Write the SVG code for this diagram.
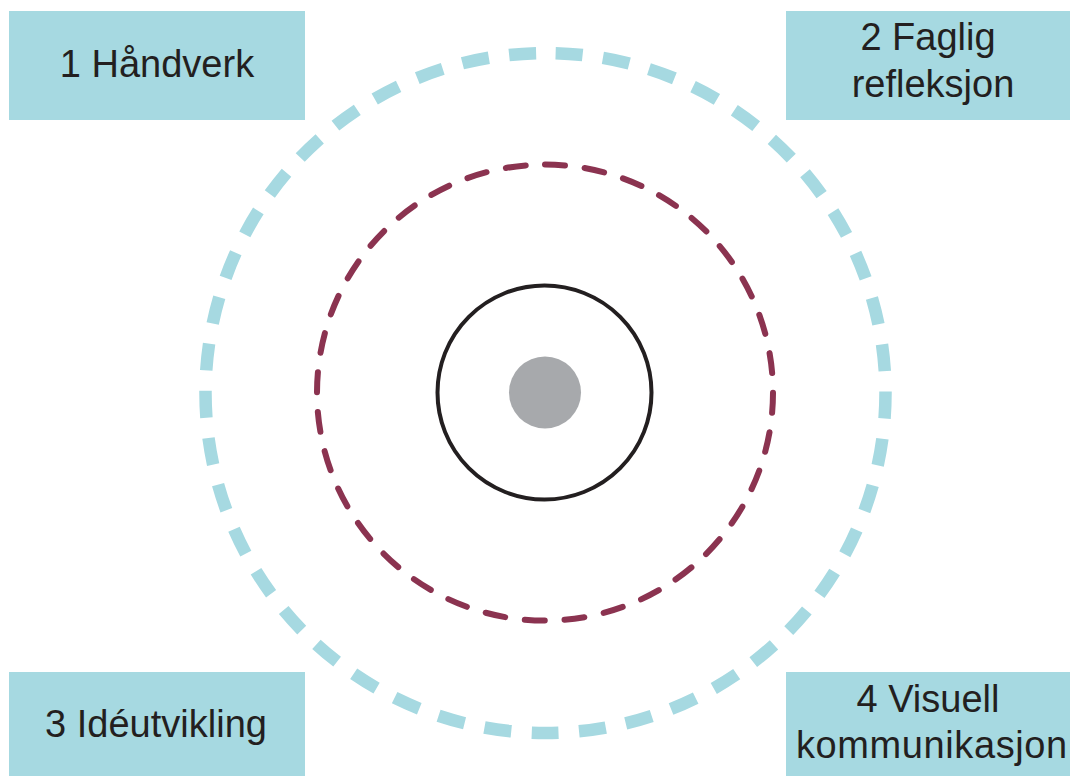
<svg xmlns="http://www.w3.org/2000/svg" width="1070" height="776" viewBox="0 0 1070 776">
<style>
.box{fill:#a6d9e1}
.lbl{font-family:"Liberation Sans",Arial,sans-serif;font-size:38px;fill:#231f20}
.mid{text-anchor:middle}
</style>
<rect width="1070" height="776" fill="#ffffff"/>
<g id="rings">
<circle cx="545.5" cy="393" r="340" fill="none" stroke="#a6d9e1" stroke-width="12.5" stroke-dasharray="27 20.47" stroke-dashoffset="37.23" transform="rotate(-90 545.5 393)"/>
<circle cx="545" cy="392.6" r="228" fill="none" stroke="#8b3350" stroke-width="6" stroke-linecap="round" stroke-dasharray="20 19.79" transform="rotate(-90 545 392.6)"/>
<circle cx="544.5" cy="392.5" r="107" fill="none" stroke="#231f20" stroke-width="4"/>
<circle cx="545" cy="392.5" r="36" fill="#a7a9ac"/>
</g>
<g id="n1"><rect class="box" x="9" y="11" width="296" height="109"/><text class="lbl mid" x="157" y="77">1 Håndverk</text></g>
<g id="n2"><rect class="box" x="786" y="11" width="284" height="109"/><text class="lbl mid" x="928" y="50">2 Faglig</text><text class="lbl mid" x="933" y="97">refleksjon</text></g>
<g id="n3"><rect class="box" x="9" y="672" width="296" height="104"/><text class="lbl mid" x="156" y="737">3 Idéutvikling</text></g>
<g id="n4"><rect class="box" x="786" y="672" width="284" height="104"/><text class="lbl mid" x="928" y="712">4 Visuell</text><text class="lbl" x="796" y="758" letter-spacing="0.6">kommunikasjon</text></g>
</svg>
